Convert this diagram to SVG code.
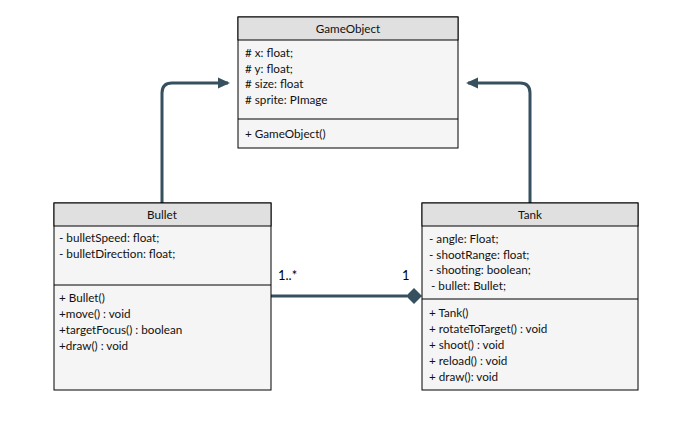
<svg xmlns="http://www.w3.org/2000/svg" width="700" height="432" viewBox="0 0 700 432">
<style>
.hdr{fill:#e0e0e0;stroke:#000;stroke-width:1}
.body{fill:#f5f5f5;stroke:#000;stroke-width:1}
.sep{stroke:#000;stroke-width:1}
text{font-family:Lato,"Noto Sans",sans-serif;font-size:11.7px;fill:#111}
.t{text-anchor:middle}
.conn{fill:none;stroke:#37505f;stroke-width:3}
.lbl{font-size:13px;fill:#000}
</style>
<defs>
<marker id="arr" markerWidth="12" markerHeight="12" refX="10" refY="6" orient="auto" markerUnits="userSpaceOnUse" viewBox="0 0 12 12">
<path d="M0,0.5 L12,6 L0,11.5 z" fill="#37505f"/>
</marker>
</defs>
<rect width="700" height="432" fill="#fff"/>
<g id="connectors">
<path class="conn" d="M162,203 V93 Q162,83 172,83 H228" marker-end="url(#arr)"/>
<path class="conn" d="M530,203 V93 Q530,83 520,83 H468" marker-end="url(#arr)"/>
<path class="conn" d="M271,296 H407"/>
<path d="M406,296 L414,288 L422,296 L414,304 z" fill="#37505f"/>
<text class="lbl" x="278" y="280">1..*</text>
<text class="lbl" x="402" y="280">1</text>
</g>
<g id="GameObject">
<rect class="body" x="238" y="17" width="220" height="131"/>
<rect class="hdr" x="238" y="17" width="220" height="23"/>
<line class="sep" x1="238" y1="119" x2="458" y2="119"/>
<text class="t" x="348" y="33">GameObject</text>
<text x="245" y="57"># x: float;</text>
<text x="245" y="73"># y: float;</text>
<text x="245" y="88"># size: float</text>
<text x="245" y="104"># sprite: PImage</text>
<text x="245" y="138">+ GameObject()</text>
</g>
<g id="Bullet">
<rect class="body" x="54" y="203" width="217" height="187"/>
<rect class="hdr" x="54" y="203" width="217" height="23"/>
<line class="sep" x1="54" y1="285" x2="271" y2="285"/>
<text class="t" x="162" y="219">Bullet</text>
<text x="59" y="242">- bulletSpeed: float;</text>
<text x="59" y="258">- bulletDirection: float;</text>
<text x="59" y="302">+ Bullet()</text>
<text x="59" y="318">+move() : void</text>
<text x="59" y="334">+targetFocus() : boolean</text>
<text x="59" y="350">+draw() : void</text>
</g>
<g id="Tank">
<rect class="body" x="422" y="203" width="216" height="187"/>
<rect class="hdr" x="422" y="203" width="216" height="23"/>
<line class="sep" x1="422" y1="299" x2="638" y2="299"/>
<text class="t" x="530" y="219">Tank</text>
<text x="429" y="243">- angle: Float;</text>
<text x="429" y="259">- shootRange: float;</text>
<text x="429" y="274">- shooting: boolean;</text>
<text x="431" y="290">- bullet: Bullet;</text>
<text x="429" y="317">+ Tank()</text>
<text x="429" y="333">+ rotateToTarget() : void</text>
<text x="429" y="349">+ shoot() : void</text>
<text x="429" y="365">+ reload() : void</text>
<text x="429" y="381">+ draw(): void</text>
</g>
</svg>
